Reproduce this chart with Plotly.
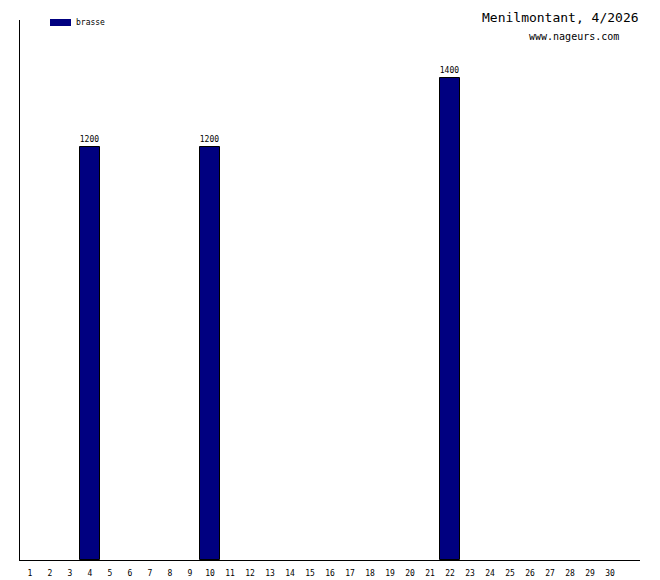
import plotly.graph_objects as go

days = list(range(1, 31))
values = [0, 0, 0, 1200, 0, 0, 0, 0, 0, 1200, 0, 0, 0, 0, 0, 0, 0, 0, 0, 0, 0, 1400, 0, 0, 0, 0, 0, 0, 0, 0]
series_name = "brasse"
title_text = "Menilmontant, 4/2026"
site_text = "www.nageurs.com"

bar_x = [d for d, v in zip(days, values) if v > 0]
bar_y = [v for v in values if v > 0]

mono = "DejaVu Sans Mono"

fig = go.Figure()
fig.add_trace(go.Bar(
    x=bar_x, y=bar_y, name=series_name,
    width=1.0,
    marker=dict(color="#000080", line=dict(color="#000000", width=1)),
    text=[str(v) for v in bar_y], textposition="outside",
    textfont=dict(family=mono, size=8, color="#000000"),
    cliponaxis=False, showlegend=False,
))

fig.update_layout(
    width=660, height=580,
    margin=dict(l=20, r=20, t=20, b=20),
    plot_bgcolor="white", paper_bgcolor="white",
    bargap=0,
    xaxis=dict(range=[0.5, 31.5], tickmode="array", tickvals=days,
               ticktext=[str(d) for d in days], showgrid=False, zeroline=False,
               showline=True, linecolor="black", linewidth=1, ticks="",
               ticklabelstandoff=5, automargin=False,
               tickfont=dict(family=mono, size=8, color="black"), fixedrange=True),
    yaxis=dict(range=[0, 1568], showgrid=False, zeroline=False, showticklabels=False,
               showline=True, linecolor="black", linewidth=1, ticks="", automargin=False),
    shapes=[dict(type="rect", xref="paper", yref="paper",
                 x0=(50 - 20) / 620, x1=(71 - 20) / 620,
                 y0=(560 - 26) / 540, y1=(560 - 19) / 540,
                 fillcolor="#000080", line=dict(width=0))],
    annotations=[
        dict(text=series_name, xref="paper", yref="paper", x=(74 - 20) / 620, y=(560 - 22.5) / 540,
             xanchor="left", yanchor="middle", showarrow=False,
             font=dict(family=mono, size=8, color="black")),
        dict(text=title_text, xref="paper", yref="paper", x=(641 - 20) / 620, y=(560 - 18) / 540,
             xanchor="right", yanchor="middle", showarrow=False,
             font=dict(family=mono, size=13, color="black")),
        dict(text=site_text, xref="paper", yref="paper", x=(621 - 20) / 620, y=(560 - 37) / 540,
             xanchor="right", yanchor="middle", showarrow=False,
             font=dict(family=mono, size=10, color="black")),
    ],
)

fig.write_html("out.html", config={"displayModeBar": False},
               post_script="document.body.style.margin='0px';")
